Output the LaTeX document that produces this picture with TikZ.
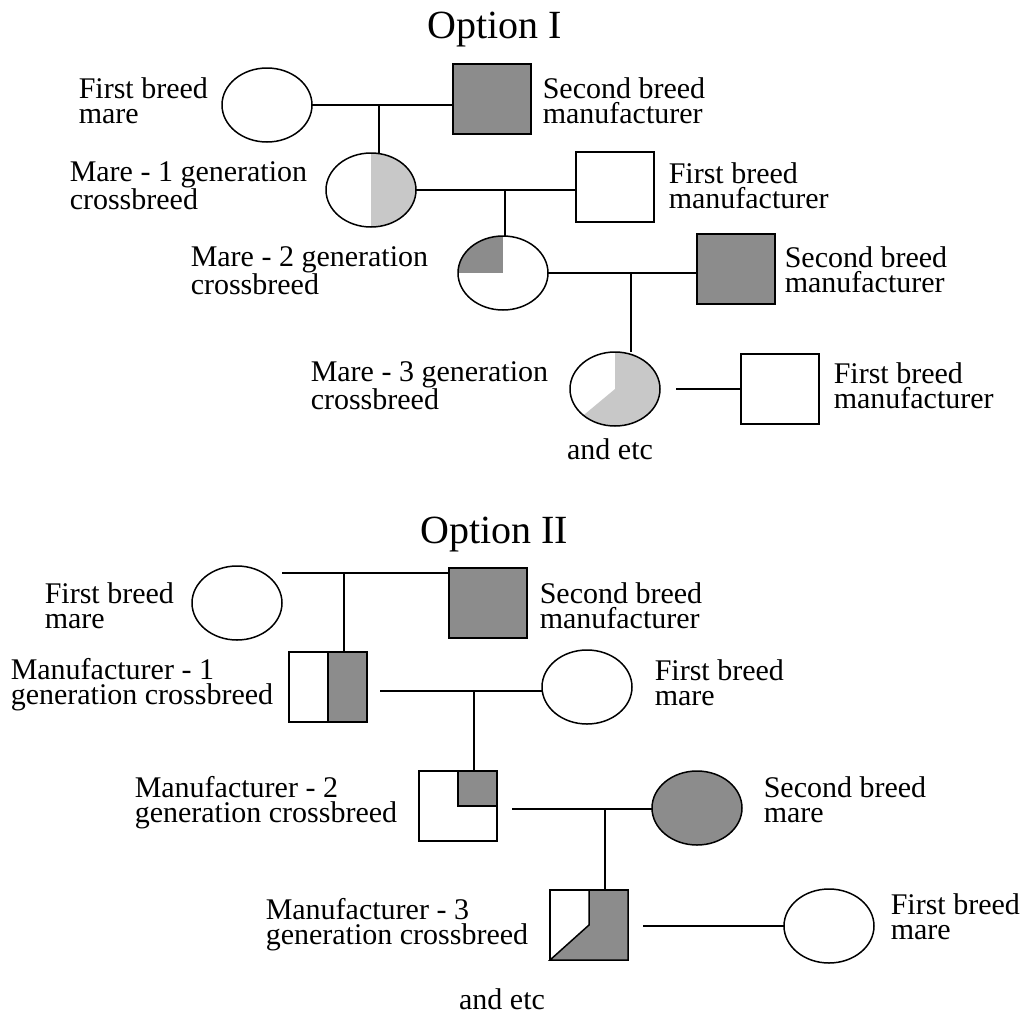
\documentclass[tikz,border=0pt]{standalone}
\usepackage{fontspec}
\setmainfont{Liberation Serif}
\usetikzlibrary{shapes.geometric}
\definecolor{darkbreed}{RGB}{140,140,140}
\definecolor{lightbreed}{RGB}{200,200,200}
\begin{document}
\begin{tikzpicture}[x=1pt, y=-1pt, line width=1.5pt,
  mare/.style={draw, ellipse, minimum width=90pt, minimum height=74pt, inner sep=0pt, outer sep=0pt},
  sire/.style={draw, rectangle, minimum width=78pt, minimum height=70pt, inner sep=0pt, outer sep=0pt},
  lbl/.style={anchor=west, align=left, inner sep=0pt, font=\fontsize{30}{25}\selectfont},
  ttl/.style={inner sep=0pt, font=\fontsize{40}{40}\selectfont}]
\useasboundingbox (0,0) rectangle (1025,1015);

% Option I
\node[ttl] (title1) at (495,30) {Option I};
\node[mare] (m0) at (267,105) {};
\node[sire, fill=darkbreed] (s0) at (492,99) {};
\node[mare, path picture={\fill[lightbreed] (path picture bounding box.north) rectangle (path picture bounding box.south east);}] (m1) at (371,190) {};
\node[sire] (s1) at (615,187) {};
\node[mare, path picture={\fill[darkbreed] (path picture bounding box.center) rectangle (path picture bounding box.north west);}] (m2) at (503,273) {};
\node[sire, fill=darkbreed] (s2) at (736,269) {};
\node[mare, path picture={\fill[lightbreed] (path picture bounding box.center) -- ++(0,-50) -- ++(60,0) -- ++(0,100) -- ++(-120,0) -- cycle;}] (m3) at (615,389) {};
\node[sire] (s3) at (780,389) {};

\node[lbl] (l0) at (78,101) {First breed\\mare};
\node[lbl] (l1) at (542,101) {Second breed\\manufacturer};
\node[lbl] (l2) at (69,186) {Mare - 1 generation\\crossbreed};
\node[lbl] (l3) at (668,186) {First breed\\manufacturer};
\node[lbl] (l4) at (190,271) {Mare - 2 generation\\crossbreed};
\node[lbl] (l5) at (784,270) {Second breed\\manufacturer};
\node[lbl] (l6) at (310,386) {Mare - 3 generation\\crossbreed};
\node[lbl] (l7) at (833,386) {First breed\\manufacturer};
\node[lbl, anchor=center] (etc1) at (610,449) {and etc};

\coordinate (j0) at (379,105);
\coordinate (j1) at (505,190);
\coordinate (j2) at (631,273);
\draw (m0.east) -- (m0.east -| s0.west);
\draw (j0) -- (j0 |- m1.north);
\draw (m1.east) -- (m1.east -| s1.west);
\draw (j1) -- (j1 |- m2.north);
\draw (m2.east) -- (m2.east -| s2.west);
\draw (j2) -- (j2 |- m3.north);
\draw (m3.east) ++(16,0) -- (m3.east -| s3.west);

% Option II
\node[ttl] (title2) at (494,535) {Option II};
\node[mare] (e0) at (237,603) {};
\node[sire, fill=darkbreed] (t0) at (488,603) {};
\node[sire] (t1) at (328,687) {};
\node[mare] (e1) at (587,687) {};
\node[sire] (t2) at (458,806) {};
\node[mare, fill=darkbreed] (e2) at (697,808) {};
\node[sire] (t3) at (589,925) {};
\node[mare] (e3) at (829,926) {};

\filldraw[fill=darkbreed] (t1.north) rectangle (t1.south east);
\filldraw[fill=darkbreed] (t2.center) rectangle (t2.north east);
\filldraw[fill=darkbreed] (t3.north) -- (t3.north east) -- (t3.south east) -- (t3.south west) -- (t3.center) -- cycle;

\node[lbl] (n0) at (44,606) {First breed\\mare};
\node[lbl] (n1) at (539,606) {Second breed\\manufacturer};
\node[lbl] (n2) at (10,685) {Manufacturer - 1\\generation crossbreed};
\node[lbl] (n3) at (654,683) {First breed\\mare};
\node[lbl] (n4) at (134,803) {Manufacturer - 2\\generation crossbreed};
\node[lbl] (n5) at (763,800) {Second breed\\mare};
\node[lbl] (n6) at (265,925) {Manufacturer - 3\\generation crossbreed};
\node[lbl] (n7) at (890,917) {First breed\\mare};
\node[lbl, anchor=center] (etc2) at (502,999) {and etc};

\coordinate (k0) at (344,573);
\coordinate (k1) at (474,691);
\coordinate (k2) at (605,809);
\draw (k0 -| e0.east) -- (k0 -| t0.west);
\draw (k0) -- (k0 |- t1.north);
\draw (k1 -| t1.east) ++(13,0) -- (k1 -| e1.west);
\draw (k1) -- (k1 |- t2.north);
\draw (k2 -| t2.east) ++(15,0) -- (k2 -| e2.west);
\draw (k2) -- (k2 |- t3.north);
\draw (e3.west -| t3.east) ++(15,0) -- (e3.west);
\end{tikzpicture}
\end{document}
